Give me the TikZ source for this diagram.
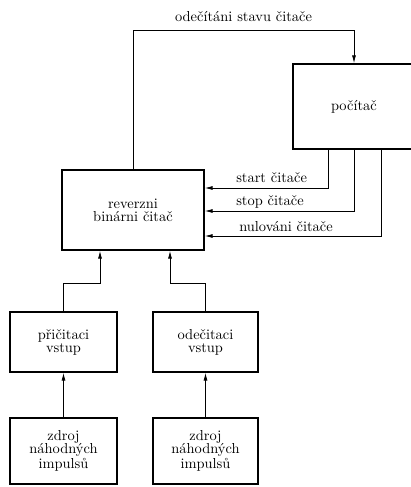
\documentclass[tikz,border=0pt]{standalone}
\usepackage{tikz}
\usetikzlibrary{arrows.meta,positioning}
\newcommand{\pxu}{0.72pt}
\tikzset{
  blok/.style={rectangle, draw, line width=1.3pt, align=center, inner sep=2pt,
               font=\fontsize{10.4}{9.4}\selectfont},
  spoj/.style={line width=0.5pt, -{Latex[length=5.5pt,width=2.8pt]}},
  popis/.style={font=\fontsize{10.4}{9.4}\selectfont, inner sep=0pt}
}

\begin{document}
\begin{tikzpicture}[x=\pxu, y=-\pxu]
  \useasboundingbox (0,0) rectangle (410,487);
  % bloky
  \node[blok, anchor=west, minimum width=122*\pxu, minimum height=85*\pxu] (poc) at (292,106.5)
    {počítač};
  \node[blok, minimum width=142*\pxu, minimum height=80*\pxu] (rev) at (133,210)
    {reverzni\\binárni čitač};
  \node[blok, minimum width=107*\pxu, minimum height=60*\pxu] (pric) at (63.5,342)
    {přičitaci\\vstup};
  \node[blok, minimum width=105*\pxu, minimum height=60*\pxu] (odec) at (205.5,342)
    {odečitaci\\vstup};
  \node[blok, minimum width=107*\pxu, minimum height=66*\pxu] (zd1) at (63.5,451)
    {zdroj\\náhodných\\impulsů};
  \node[blok, minimum width=105*\pxu, minimum height=66*\pxu] (zd2) at (205.5,451)
    {zdroj\\náhodných\\impulsů};

  % odecitani stavu
  \coordinate (hore) at (133,30);
  \coordinate (vstup) at (354,30);
  \draw[spoj] (rev.north) -- (hore) -| (vstup |- poc.north)
    node[popis, pos=0.25, above=6pt] {odečítáni stavu čitače};

  % rizeni citace
  \coordinate (s1) at (328,188);
  \coordinate (s2) at (354,211);
  \coordinate (s3) at (381,236);
  \draw[spoj] (poc.south -| s1) |- (rev.east |- s1);
  \draw[spoj] (poc.south -| s2) |- (rev.east |- s2);
  \draw[spoj] (poc.south -| s3) |- (rev.east |- s3);
  \node[popis, anchor=base west] (lstart) at (236,182) {start čitače};
  \node[popis, anchor=base west] (lstop) at (236,205) {stop čitače};
  \node[popis, anchor=base west] (lnul) at (239,231) {nulováni čitače};

  % vstupy
  \coordinate (j1) at (100,283);
  \coordinate (j2) at (170,283);
  \draw[spoj] (pric.north) |- (j1) -- (j1 |- rev.south);
  \draw[spoj] (odec.north) |- (j2) -- (j2 |- rev.south);
  \draw[spoj] (zd1.north) -- (pric.south);
  \draw[spoj] (zd2.north) -- (odec.south);
\end{tikzpicture}
\end{document}
